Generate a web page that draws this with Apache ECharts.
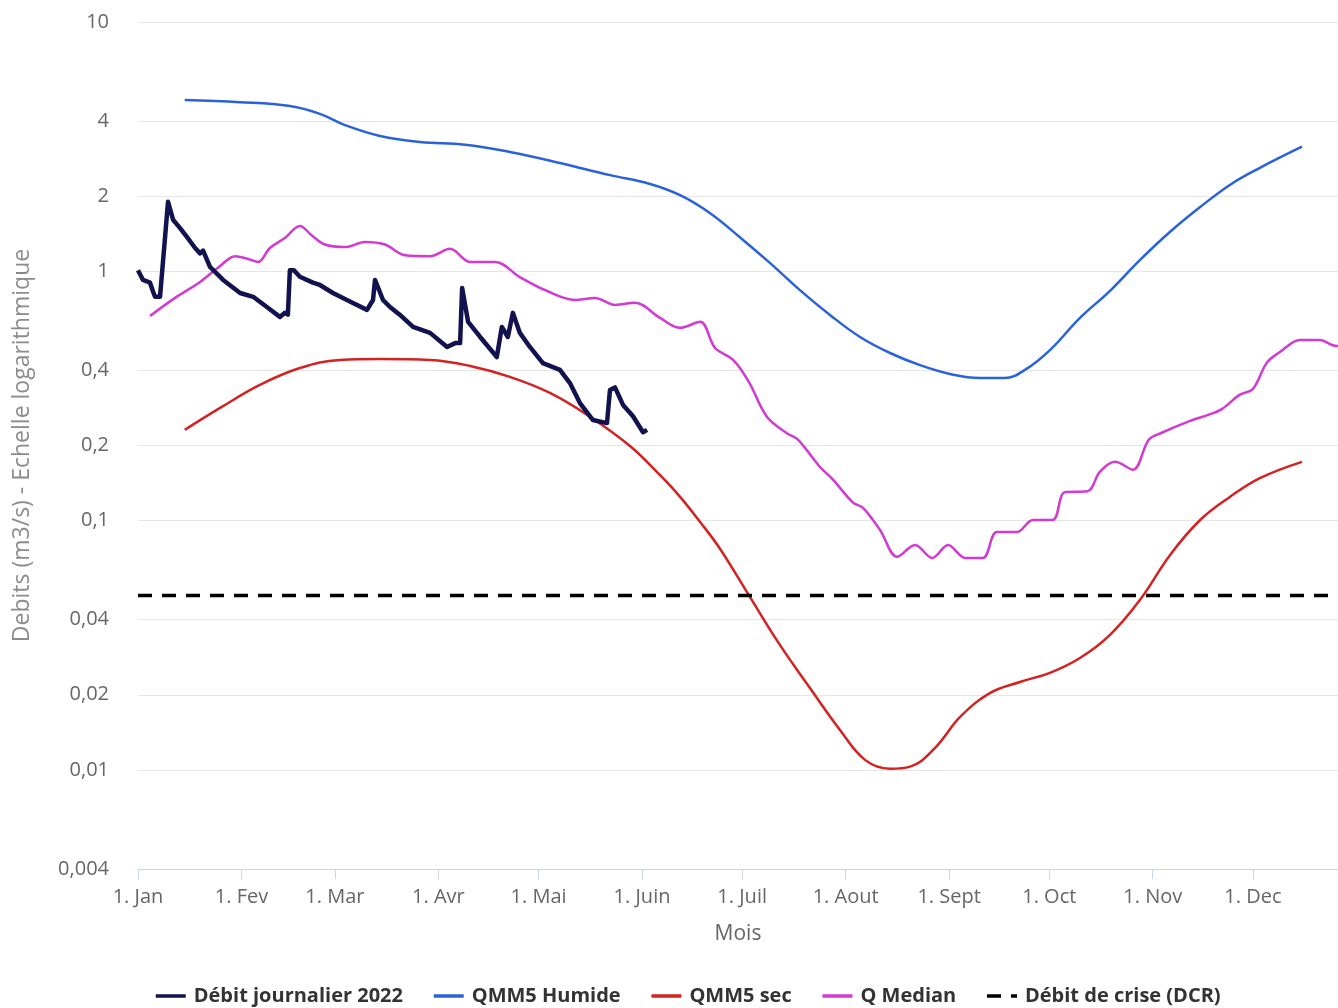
<!DOCTYPE html>
<html>
<head>
<meta charset="utf-8">
<script src="https://cdn.jsdelivr.net/npm/echarts@6/dist/echarts.min.js"></script>
<style>
html,body{margin:0;padding:0;background:#fff;}
#chart{width:1338px;height:1008px;}
</style>
</head>
<body>
<div id="chart"></div>
<script>
// ---- tick labels ----
const monthLabels = ['1. Jan','1. Fev','1. Mar','1. Avr','1. Mai','1. Juin','1. Juil','1. Aout','1. Sept','1. Oct','1. Nov','1. Dec'];
const monthStartDays = [0,31,59,90,120,151,181,212,243,273,304,334];
const yTickValues = [0.004,0.01,0.02,0.04,0.1,0.2,0.4,1,2,4,10];

// ---- series (x = day of year 2022, 0 = 1 Jan) ----
const dailyDays = [0,1.5,3.6,4.5,5.1,6.6,9.0,10.5,12.6,14.7,17.1,18.6,19.5,21.6,25.5,30.6,34.5,38.6,42.5,44.0,44.9,45.5,46.7,48.5,52.4,54.5,58.4,64.4,68.6,70.4,71.0,73.4,75.5,78.5,82.4,87.5,92.6,95.0,96.5,97.1,98.9,102.5,107.5,109.0,110.8,112.3,114.4,117.4,121.3,126.4,129.4,132.4,136.3,140.5,141.4,142.9,145.3,148.3,151.3,152.5];
const dailyVals = [1.01,0.923,0.90,0.83,0.79,0.79,1.90,1.61,1.49,1.37,1.24,1.18,1.21,1.04,0.923,0.818,0.79,0.719,0.656,0.681,0.67,1.01,1.01,0.95,0.90,0.881,0.818,0.746,0.70,0.767,0.923,0.767,0.719,0.668,0.598,0.566,0.497,0.515,0.515,0.857,0.627,0.545,0.453,0.598,0.545,0.681,0.566,0.497,0.428,0.402,0.356,0.296,0.253,0.246,0.334,0.342,0.291,0.262,0.226,0.231];

const humideDays = [14,30.5,45.5,54.5,62,72.5,84.5,98,111.4,126.4,141.4,153.4,162.4,171.4,180.3,189.3,198.3,207.3,216.3,225.3,234.3,243.3,252.2,259.7,265.7,273.2,282.2,291.2,300.2,309.2,318.2,327.1,336.1,348.7];
const humideVals = [4.86,4.77,4.60,4.28,3.86,3.49,3.30,3.22,3.01,2.72,2.43,2.24,2.02,1.71,1.37,1.08,0.84,0.668,0.545,0.470,0.420,0.387,0.373,0.373,0.402,0.483,0.650,0.834,1.11,1.44,1.81,2.22,2.60,3.16];

const secDays = [14,24.6,36.5,48.5,60.5,72.5,87.5,99.5,111.4,123.4,135.4,147.4,156.4,162.4,168.4,174.4,183.3,192.3,201.3,210.3,217.8,225.3,231.3,238.8,246.3,255.2,264.2,273.2,282.2,291.2,300.2,309.2,318.2,327.1,336.1,348.7];
const secVals = [0.231,0.283,0.350,0.409,0.441,0.445,0.441,0.417,0.377,0.325,0.261,0.199,0.152,0.1245,0.0987,0.0769,0.0494,0.0317,0.0213,0.01445,0.01096,0.0101,0.0103,0.01225,0.0163,0.0203,0.0225,0.0245,0.0281,0.0348,0.0481,0.0728,0.1005,0.1244,0.148,0.172];

const medianDays = [3.6,11.1,18.6,24.6,29.1,33.0,36.0,39.5,44.0,48.5,52.1,56.0,62.0,68.0,74.0,80.0,87.5,93.5,99.5,107.0,114.4,121.9,130.9,136.9,142.9,148.9,156.4,162.4,168.4,172.9,178.3,183.0,188.4,194.4,197.7,204.3,208.2,214.2,217.2,222.3,227.4,232.8,237.9,242.7,247.8,253.1,257.3,263.3,268.1,274.0,277.7,284.4,288.2,292.7,298.1,302.8,306.7,314.8,320.8,324.7,330.1,334.0,338.2,342.1,348.1,354.1,357.9,359.5];
const medianVals = [0.662,0.782,0.906,1.05,1.15,1.12,1.09,1.24,1.36,1.52,1.39,1.28,1.25,1.31,1.28,1.16,1.15,1.23,1.09,1.09,0.948,0.841,0.767,0.782,0.733,0.747,0.650,0.593,0.627,0.492,0.441,0.36,0.261,0.224,0.211,0.164,0.146,0.118,0.1125,0.0917,0.0716,0.0798,0.0708,0.0798,0.0708,0.0708,0.0899,0.0899,0.1005,0.1005,0.130,0.131,0.157,0.172,0.160,0.211,0.225,0.250,0.266,0.280,0.320,0.337,0.430,0.474,0.530,0.530,0.505,0.501];

const dcrValue = 0.05;
const xEndDay = 359.5;

// ---- build ----
const pairs = (days, vals) => days.map((d, i) => [d, vals[i]]);

const FONT = '"Open Sans", sans-serif';
const chart = echarts.init(document.getElementById('chart'), null, {renderer: 'canvas'});

chart.setOption({
  animation: false,
  backgroundColor: '#ffffff',
  grid: {left: 138, right: 0, top: 22, bottom: 139, outerBoundsMode: 'none', containLabel: false},
  legend: {
    bottom: 2,
    left: 154,
    padding: 0,
    itemGap: 29,
    itemWidth: 30,
    itemHeight: 14,
    itemStyle: {opacity: 0},
    lineStyle: {width: 3.5},
    data: ['Débit journalier 2022','QMM5 Humide','QMM5 sec','Q Median','Débit de crise (DCR)'],
    textStyle: {fontFamily: FONT, fontSize: 20, fontWeight: 'bold', color: '#333333', padding: [0, 0, 0, 3]}
  },
  xAxis: {
    type: 'value',
    min: 0,
    max: xEndDay,
    name: 'Mois',
    nameLocation: 'middle',
    nameGap: 55,
    nameTextStyle: {fontFamily: FONT, fontSize: 21, color: '#666666'},
    axisLine: {show: true, lineStyle: {color: '#ccd6eb', width: 1}},
    axisTick: {show: true, length: 10, lineStyle: {color: '#ccd6eb'}, customValues: monthStartDays},
    axisLabel: {
      customValues: monthStartDays,
      margin: 18,
      fontFamily: FONT, fontSize: 20, color: '#666666',
      formatter: v => monthLabels[monthStartDays.indexOf(v)]
    },
    splitLine: {show: false}
  },
  yAxis: {
    type: 'log',
    logBase: 10,
    min: 0.004,
    max: 10,
    name: 'Debits (m3/s) - Echelle logarithmique',
    nameLocation: 'middle',
    nameGap: 104,
    nameRotate: 90,
    nameTextStyle: {fontFamily: FONT, fontSize: 23, color: '#8c8c8c'},
    axisLine: {show: false},
    axisTick: {show: false, customValues: yTickValues},
    axisLabel: {
      customValues: yTickValues,
      margin: 29,
      fontFamily: FONT, fontSize: 20, color: '#666666',
      formatter: v => String(v).replace('.', ',')
    },
    splitLine: {show: true, lineStyle: {color: '#e6e6e6', width: 1}}
  },
  series: [
    {name: 'QMM5 Humide', type: 'line', showSymbol: false, symbol: 'none', smooth: 0.4,
     data: pairs(humideDays, humideVals), lineStyle: {color: '#2a62db', width: 2.5}, itemStyle: {color: '#2a62db'}},
    {name: 'QMM5 sec', type: 'line', showSymbol: false, symbol: 'none', smooth: 0.4,
     data: pairs(secDays, secVals), lineStyle: {color: '#d42222', width: 2.5}, itemStyle: {color: '#d42222'}},
    {name: 'Q Median', type: 'line', showSymbol: false, symbol: 'none', smooth: 0.35,
     data: pairs(medianDays, medianVals), lineStyle: {color: '#d23ad2', width: 2.5}, itemStyle: {color: '#d23ad2'}},
    {name: 'Débit de crise (DCR)', type: 'line', showSymbol: false, symbol: 'none',
     data: [[0, dcrValue], [xEndDay, dcrValue]],
     lineStyle: {color: '#000000', width: 3.5, type: [14, 10]}, itemStyle: {color: '#000000'}},
    {name: 'Débit journalier 2022', type: 'line', showSymbol: false, symbol: 'none',
     data: pairs(dailyDays, dailyVals), lineStyle: {color: '#12124f', width: 4.5, join: 'round'}, itemStyle: {color: '#12124f'}}
  ]
});
</script>
</body>
</html>
